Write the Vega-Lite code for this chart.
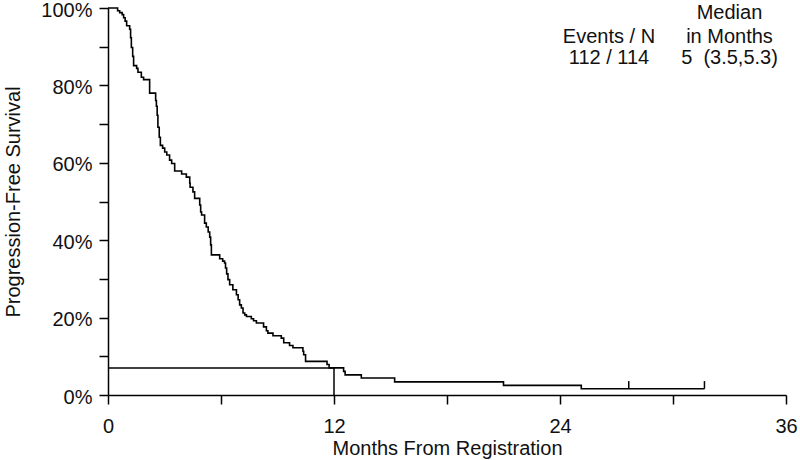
{
  "$schema": "https://vega.github.io/schema/vega-lite/v6.json",
  "width": 678,
  "height": 387,
  "autosize": "none",
  "padding": {"left": 108, "top": 8, "right": 14, "bottom": 65},
  "background": "white",
  "config": {
    "font": "Liberation Sans",
    "view": {"stroke": null},
    "axis": {"grid": false, "domainColor": "black", "domainWidth": 1.5, "tickColor": "black", "tickWidth": 1.5, "tickSize": 9, "labelColor": "#111", "titleColor": "#111", "labelFont": "Liberation Sans", "titleFont": "Liberation Sans", "titleFontWeight": "normal"}
  },
  "datasets": {
    "km": [
      {"month": 0, "pfs": 100.0},
      {"month": 0.51, "pfs": 99.3},
      {"month": 0.62, "pfs": 98.8},
      {"month": 0.75, "pfs": 98.3},
      {"month": 0.83, "pfs": 97.5},
      {"month": 0.91, "pfs": 96.6},
      {"month": 0.99, "pfs": 95.4},
      {"month": 1.15, "pfs": 94.5},
      {"month": 1.20, "pfs": 92.3},
      {"month": 1.24, "pfs": 89.8},
      {"month": 1.31, "pfs": 87.5},
      {"month": 1.36, "pfs": 85.1},
      {"month": 1.52, "pfs": 84.4},
      {"month": 1.59, "pfs": 83.4},
      {"month": 1.77, "pfs": 82.1},
      {"month": 1.89, "pfs": 81.5},
      {"month": 2.21, "pfs": 78.0},
      {"month": 2.53, "pfs": 76.1},
      {"month": 2.57, "pfs": 74.6},
      {"month": 2.61, "pfs": 72.3},
      {"month": 2.65, "pfs": 69.2},
      {"month": 2.72, "pfs": 66.6},
      {"month": 2.78, "pfs": 64.5},
      {"month": 2.90, "pfs": 63.8},
      {"month": 3.01, "pfs": 62.8},
      {"month": 3.12, "pfs": 62.0},
      {"month": 3.27, "pfs": 60.7},
      {"month": 3.38, "pfs": 59.8},
      {"month": 3.54, "pfs": 57.9},
      {"month": 3.91, "pfs": 57.1},
      {"month": 4.16, "pfs": 56.3},
      {"month": 4.34, "pfs": 54.7},
      {"month": 4.36, "pfs": 53.7},
      {"month": 4.51, "pfs": 52.5},
      {"month": 4.60, "pfs": 50.8},
      {"month": 4.87, "pfs": 49.1},
      {"month": 4.92, "pfs": 47.3},
      {"month": 4.97, "pfs": 46.5},
      {"month": 5.13, "pfs": 44.4},
      {"month": 5.22, "pfs": 43.4},
      {"month": 5.32, "pfs": 42.1},
      {"month": 5.40, "pfs": 40.8},
      {"month": 5.45, "pfs": 38.8},
      {"month": 5.49, "pfs": 36.2},
      {"month": 5.93, "pfs": 35.2},
      {"month": 6.09, "pfs": 34.6},
      {"month": 6.19, "pfs": 34.1},
      {"month": 6.24, "pfs": 32.8},
      {"month": 6.30, "pfs": 31.3},
      {"month": 6.37, "pfs": 29.8},
      {"month": 6.46, "pfs": 28.5},
      {"month": 6.63, "pfs": 27.2},
      {"month": 6.82, "pfs": 25.9},
      {"month": 6.91, "pfs": 24.6},
      {"month": 6.99, "pfs": 23.3},
      {"month": 7.08, "pfs": 22.5},
      {"month": 7.17, "pfs": 21.2},
      {"month": 7.26, "pfs": 20.7},
      {"month": 7.35, "pfs": 20.3},
      {"month": 7.61, "pfs": 19.7},
      {"month": 7.73, "pfs": 19.2},
      {"month": 7.88, "pfs": 18.6},
      {"month": 8.26, "pfs": 17.6},
      {"month": 8.41, "pfs": 16.6},
      {"month": 8.49, "pfs": 16.0},
      {"month": 8.76, "pfs": 15.3},
      {"month": 9.20, "pfs": 14.7},
      {"month": 9.33, "pfs": 13.5},
      {"month": 9.64, "pfs": 12.8},
      {"month": 9.82, "pfs": 12.2},
      {"month": 10.35, "pfs": 11.3},
      {"month": 10.39, "pfs": 10.4},
      {"month": 10.49, "pfs": 8.7},
      {"month": 11.63, "pfs": 7.9},
      {"month": 11.74, "pfs": 7.0},
      {"month": 12.51, "pfs": 6.1},
      {"month": 12.59, "pfs": 5.2},
      {"month": 13.45, "pfs": 4.4},
      {"month": 15.22, "pfs": 3.4},
      {"month": 21.0, "pfs": 2.5},
      {"month": 25.13, "pfs": 1.6},
      {"month": 31.67, "pfs": 1.6}
    ],
    "ref": [
      {"month": 0, "month2": 12, "pfs": 7.0, "pfs2": 7.0},
      {"month": 12, "month2": 12, "pfs": 0, "pfs2": 7.0}
    ],
    "censor": [
      {"month": 27.65, "month2": 27.65, "pfs": 1.6, "pfs2": 3.6},
      {"month": 31.67, "month2": 31.67, "pfs": 1.6, "pfs2": 3.6}
    ],
    "labels": [
      {"month": 26.6, "pfs": 92.5, "label": "Events / N"},
      {"month": 26.6, "pfs": 87.1, "label": "112 / 114"},
      {"month": 33.0, "pfs": 98.8, "label": "Median"},
      {"month": 33.0, "pfs": 92.5, "label": "in Months"},
      {"month": 33.0, "pfs": 87.1, "label": "5\u00a0 (3.5,5.3)"}
    ]
  },
  "encoding": {
    "x": {
      "field": "month", "type": "quantitative",
      "scale": {"domain": [0, 36], "nice": false, "zero": false},
      "axis": {"values": [0, 6, 12, 18, 24, 30, 36], "labelExpr": "datum.value % 12 == 0 ? datum.label : ''", "labelFontSize": 20, "labelPadding": 12, "title": "Months From Registration", "titleFontSize": 20, "titlePadding": 2, "labelFlush": false}
    },
    "y": {
      "field": "pfs", "type": "quantitative",
      "scale": {"domain": [0, 100], "nice": false},
      "axis": {"values": [0, 10, 20, 30, 40, 50, 60, 70, 80, 90, 100], "labelExpr": "datum.value % 20 == 0 ? datum.value + '%' : ''", "labelFontSize": 20, "labelPadding": 7, "labelOffset": 2, "title": "Progression-Free Survival", "titleFontSize": 20, "titlePadding": 17, "labelFlush": false}
    }
  },
  "layer": [
    {
      "data": {"name": "km"},
      "mark": {"type": "line", "interpolate": "step-after", "color": "black", "strokeWidth": 1.6}
    },
    {
      "data": {"name": "ref"},
      "mark": {"type": "rule", "color": "black", "strokeWidth": 1.5},
      "encoding": {"x2": {"field": "month2"}, "y2": {"field": "pfs2"}}
    },
    {
      "data": {"name": "censor"},
      "mark": {"type": "rule", "color": "black", "strokeWidth": 1.5},
      "encoding": {"x2": {"field": "month2"}, "y2": {"field": "pfs2"}}
    },
    {
      "data": {"name": "labels"},
      "mark": {"type": "text", "fontSize": 20, "color": "#111", "align": "center", "baseline": "middle"},
      "encoding": {"text": {"field": "label"}}
    }
  ]
}
